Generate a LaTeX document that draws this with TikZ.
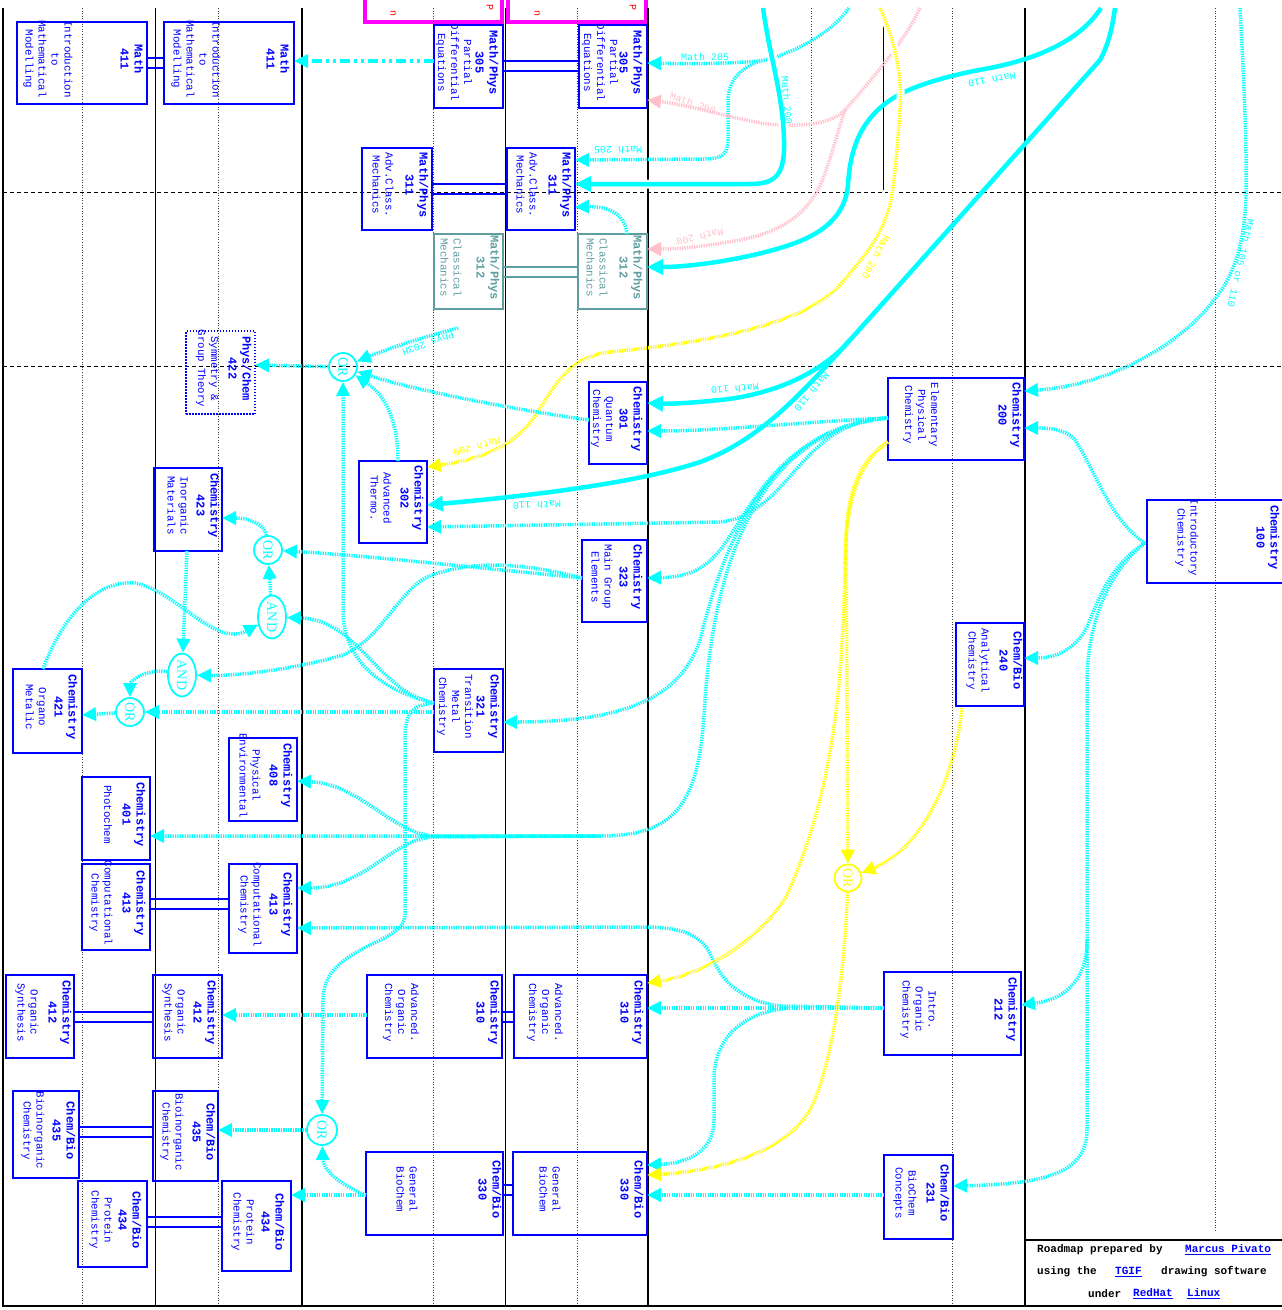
\documentclass[tikz,border=0pt]{standalone}
\usepackage{fontspec}
\usetikzlibrary{arrows.meta,calc,shapes.geometric}
\newfontfamily\monof{Liberation Mono}
\newfontfamily\orfont{Liberation Serif}
\definecolor{bblue}{RGB}{0,0,255}
\definecolor{ccyan}{RGB}{0,255,255}
\definecolor{cyel}{RGB}{255,255,0}
\definecolor{cpink}{RGB}{255,192,203}
\definecolor{cteal}{RGB}{95,158,160}
\definecolor{cmag}{RGB}{255,0,255}
\newcommand\hfont{\monof\bfseries\fontsize{12}{14}\selectfont}
\newcommand\dfont{\monof\fontsize{10.8}{13}\selectfont}
\newcommand\lfont{\monof\fontsize{10}{11}\selectfont}
\newcommand\ffont{\monof\bfseries\fontsize{11}{12}\selectfont}
\newcommand\course[9]{%
  \node[cbox,cur,minimum width={(#4-#2)*1pt},minimum height={(#5-#3)*1pt}] (#1) at ({(#2+#4)/2},{(#3+#5)/2}) {};
  \node[hdr,curtext] (#1h) at (#6,{(#3+#5)/2-4}) {#8};
  \node[dsc,curtext] (#1d) at (#7,{(#3+#5)/2-4}) {#9};
}
\begin{document}
\begin{tikzpicture}[x=1pt,y=-1pt,
  cbox/.style={rectangle,line width=1.8pt,inner sep=0pt,outer sep=0pt},
  cur/.style={draw=bblue},
  curtext/.style={text=bblue},
  hdr/.style={rotate=-90,align=center,font=\hfont,inner sep=0pt},
  dsc/.style={rotate=-90,align=center,font=\dfont,inner sep=0pt},
  tipc/.style={-{Triangle[length=14pt,width=13pt]}},
  tipt/.style={-{Triangle[length=16pt,width=15pt]}},
  cdot/.style={draw=ccyan,line width=3.5pt,dash pattern=on 1.3pt off 1.1pt,tipc},
  ydot/.style={draw=cyel,line width=3.5pt,dash pattern=on 1.3pt off 1.1pt,tipc},
  pdot/.style={draw=cpink,line width=3.5pt,dash pattern=on 1.3pt off 1.1pt,tipc},
  cthk/.style={draw=ccyan,line width=4.5pt,tipt},
  cdd/.style={draw=ccyan,line width=4pt,dash pattern=on 10pt off 4pt on 3pt off 4pt on 3pt off 4pt,tipc},
  dbl/.style={draw=bblue,line width=1.5pt},
  gate/.style={draw=ccyan,line width=1.8pt,circle,inner sep=0pt,minimum size=28pt,text=ccyan,font=\orfont\fontsize{14}{14}\selectfont},
  andg/.style={draw=ccyan,line width=1.8pt,ellipse,inner sep=0pt,minimum width=28pt,minimum height=41pt,text=ccyan,font=\orfont\fontsize{14}{14}\selectfont},
  lab/.style={font=\lfont,inner sep=0pt},
  vsolid/.style={draw=black,line width=1pt},
  vdot/.style={draw=black!75,line width=0.8pt,dash pattern=on 1pt off 1.6pt},
  hdash/.style={draw=black,line width=0.9pt,dash pattern=on 4pt off 3pt},
  foot/.style={font=\ffont,inner sep=0pt,anchor=west},
  link/.style={text=bblue},
  gap/.style={preaction={draw=white,line width=8pt,solid,-}}]
\useasboundingbox (0,0) rectangle (1282,1310);

% ---------- magenta cut-off boxes ----------
\draw[cmag,line width=3.5pt] (365,-10) -- (365,22) -- (502,22) -- (502,-10);
\draw[cmag,line width=3.5pt] (508,-10) -- (508,22) -- (646,22) -- (646,-10);
\node[red,rotate=-90,font=\lfont,inner sep=0pt] (rn1) at (393,13) {n};
\node[red,rotate=-90,font=\lfont,inner sep=0pt] (rp1) at (490,7) {P};
\node[red,rotate=-90,font=\lfont,inner sep=0pt] (rn2) at (537,13) {n};
\node[red,rotate=-90,font=\lfont,inner sep=0pt] (rp2) at (633,7) {P};

% ---------- grid ----------
\draw[vsolid,line width=2.5pt] (3,8) -- (3,1307);
\draw[vsolid] (155,8) -- (155,1307);
\draw[vsolid,line width=2pt] (302,8) -- (302,1307);
\draw[vsolid] (505,8) -- (505,1307);
\draw[vsolid,line width=2pt] (648,8) -- (648,1307);
\draw[vsolid,line width=2pt] (1025,8) -- (1025,1240);
\draw[vsolid] (883,8) -- (883,190);
\foreach \xx in {82,218,433,577,952} \draw[vdot] (\xx,8) -- (\xx,1305);
\draw[vdot] (811,8) -- (811,190);
\draw[vdot] (1215,8) -- (1215,1232);
\draw[hdash] (3,192) -- (1282,192);
\draw[hdash] (3,366) -- (1282,366);
\draw[vsolid,line width=2.5pt] (3,1306) -- (1025,1306);
\draw[vsolid,line width=2.5pt] (1025,1306) -- (1025,1240) -- (1290,1240);
\draw[vsolid,line width=2.5pt] (1025,1306) -- (1290,1306);

% ---------- courses ----------
\course{m411a}{17}{22}{147}{104}{132}{48}{Math\\411}{Introduction\\to\\Mathematical\\Modelling}
\course{m411b}{164}{22}{294}{104}{278}{196}{Math\\411}{Introduction\\to\\Mathematical\\Modelling}
\course{m305a}{434}{25}{503}{108}{487}{454}{Math/Phys\\305}{Partial\\Differential\\Equations}
\course{m305b}{579}{25}{647}{108}{631}{600}{Math/Phys\\305}{Partial\\Differential\\Equations}
\course{m311a}{362}{148}{432}{230}{417}{383}{Math/Phys\\311}{Adv.Class.\\Mechanics}
\course{m311b}{507}{148}{575}{230}{560}{527}{Math/Phys\\311}{Adv.Class.\\Mechanics}
\tikzset{cur/.style={draw=cteal},curtext/.style={text=cteal}}
\course{m312a}{434}{234}{503}{309}{488}{451}{Math/Phys\\312}{Classical\\Mechanics}
\course{m312b}{578}{234}{647}{309}{631}{597}{Math/Phys\\312}{Classical\\Mechanics}
\tikzset{cur/.style={draw=bblue,line width=1.5pt,dash pattern=on 1.5pt off 1.5pt},curtext/.style={text=bblue}}
\course{p422}{186}{331}{255}{414}{240}{207}{Phys/Chem\\422}{Symmetry \&\\Group Theory}
\tikzset{cur/.style={draw=bblue},curtext/.style={text=bblue}}
\course{c301}{589}{382}{647}{464}{631}{602}{Chemistry\\301}{Quantum\\Chemistry}
\course{c302}{359}{461}{427}{543}{412}{381}{Chemistry\\302}{Advanced\\Thermo.}
\course{c423}{154}{468}{222}{551}{208}{178}{Chemistry\\423}{Inorganic\\Materials}
\course{c323}{582}{540}{647}{622}{631}{602}{Chemistry\\323}{Main Group\\Elements}
\course{c200}{888}{378}{1024}{460}{1010}{921}{Chemistry\\200}{Elementary\\Physical\\Chemistry}
\course{c100}{1147}{500}{1300}{583}{1268}{1187}{Chemistry\\100}{Introductory\\Chemistry}
\course{cb240}{956}{623}{1024}{706}{1011}{978}{Chem/Bio\\240}{Analytical\\Chemistry}
\course{c421}{13}{669}{82}{753}{66}{36}{Chemistry\\421}{Organo\\Metalic}
\course{c321}{434}{669}{503}{752}{488}{455}{Chemistry\\321}{Transition\\Metal\\Chemistry}
\course{c408}{229}{738}{297}{821}{281}{250}{Chemistry\\408}{Physical\\Environmental}
\course{c401}{82}{777}{150}{860}{134}{108}{Chemistry\\401}{Photochem}
\course{c413a}{82}{864}{150}{950}{134}{101}{Chemistry\\413}{Computational\\Chemistry}
\course{c413b}{229}{864}{297}{953}{281}{250}{Chemistry\\413}{Computational\\Chemistry}
\course{c310a}{367}{975}{502}{1058}{488}{401}{Chemistry\\310}{Advanced.\\Organic\\Chemistry}
\course{c310b}{514}{975}{647}{1058}{632}{545}{Chemistry\\310}{Advanced.\\Organic\\Chemistry}
\course{c212}{884}{972}{1021}{1055}{1006}{918}{Chemistry\\212}{Intro.\\Organic\\Chemistry}
\course{c412a}{6}{975}{74}{1058}{60}{27}{Chemistry\\412}{Organic\\Synthesis}
\course{c412b}{153}{975}{222}{1058}{205}{174}{Chemistry\\412}{Organic\\Synthesis}
\course{cb435a}{13}{1091}{79}{1178}{64}{33}{Chem/Bio\\435}{Bioinorganic\\Chemistry}
\course{cb435b}{153}{1091}{218}{1181}{204}{172}{Chem/Bio\\435}{Bioinorganic\\Chemistry}
\course{cb434a}{78}{1181}{147}{1267}{130}{101}{Chem/Bio\\434}{Protein\\Chemistry}
\course{cb434b}{222}{1181}{291}{1271}{273}{243}{Chem/Bio\\434}{Protein\\Chemistry}
\course{cb330a}{366}{1152}{503}{1235}{490}{407}{Chem/Bio\\330}{General\\BioChem}
\course{cb330b}{513}{1152}{647}{1235}{632}{550}{Chem/Bio\\330}{General\\BioChem}
\course{cb231}{884}{1155}{953}{1239}{938}{905}{Chem/Bio\\231}{BioChem\\Concepts}

% ---------- same-course double links ----------
\foreach \a/\b/\o in {m411a/m411b/36,m305a/m305b/36,m311a/m311b/36,c310a/c310b/37,c412a/c412b/37,c413a/c413b/35,cb435a/cb435b/36,cb434a/cb434b/36,cb330a/cb330b/33}{
  \draw[dbl] ($(\a.north east)+(0,\o)$) -- ($(\b.north west)+(0,\o)$);
  \draw[dbl] ($(\a.north east)+(0,\o+10)$) -- ($(\b.north west)+(0,\o+10)$);
}
\draw[dbl,draw=cteal] ($(m312a.north east)+(0,33)$) -- ($(m312b.north west)+(0,33)$);
\draw[dbl,draw=cteal] ($(m312a.north east)+(0,43)$) -- ($(m312b.north west)+(0,43)$);

% ---------- gates ----------
\node[gate] (orA) at (343,367) {\rotatebox{-90}{OR}};
\node[gate] (orB) at (268,550) {\rotatebox{-90}{OR}};
\node[andg] (andA) at (272,617) {\rotatebox{-90}{AND}};
\node[andg] (andB) at (182,675) {\rotatebox{-90}{AND}};
\node[gate] (orC) at (130,712) {\rotatebox{-90}{OR}};
\node[gate,minimum size=30pt] (orD) at (322,1130) {\rotatebox{-90}{OR}};
\node[gate,draw=cyel,text=cyel,minimum size=27pt] (orY) at (848,878) {\rotatebox{-90}{OR}};

% ---------- free ends at the top ----------
\coordinate (t205) at (849,8);
\coordinate (t200) at (763,8);
\coordinate (tp200) at (920,8);
\coordinate (ty200) at (880,8);
\coordinate (t110a) at (1101,8);
\coordinate (t110b) at (1115,8);
\coordinate (t105) at (1240,8);
\coordinate (t203) at (458,328);
\coordinate (b205) at (760,61);
\coordinate (bp200) at (845,110);
\coordinate (b110) at (850,340);

% ---------- labels under lines ----------
\node[lab,text=ccyan,rotate=180] (l200h) at (682,184) {Math 200};

% ---------- top connectors ----------
\draw[cdd] ($(m305a.north west)+(0,36)$) -- ($(m411b.north east)+(0,39)$);
\draw[cdot] (t205) .. controls (830,35) and (790,55) .. (b205) .. controls (720,64) and (690,64) .. ($(m305b.north east)+(0,38)$);
\draw[cdot] (b205) .. controls (735,70) and (728,85) .. (728,102) -- (728,140) .. controls (728,155) and (720,159) .. (705,159) -- ($(m311b.north east)+(0,12)$);
\draw[pdot] (tp200) .. controls (905,40) and (880,70) .. (bp200) .. controls (830,125) and (800,127) .. (767,124) .. controls (730,118) and (690,105) .. ($(m305b.north east)+(0,75)$);
\draw[pdot] (bp200) .. controls (835,140) and (825,180) .. (816,193) .. controls (800,220) and (775,233) .. (740,240) .. controls (700,247) and (680,249) .. ($(m312b.north east)+(0,15)$);
\draw[cthk,preaction={draw=white,line width=9pt,-,shorten >=30pt}] (t200) .. controls (770,60) and (785,100) .. (784,150) .. controls (783,175) and (775,184) .. (750,184) -- ($(m311b.north east)+(0,36)$);
\draw[cthk] (t110a) .. controls (1080,40) and (1040,58) .. (990,68) .. controls (950,75) and (915,85) .. (895,97) .. controls (860,118) and (850,150) .. (848,185) .. controls (845,215) and (825,235) .. (780,248) .. controls (740,260) and (690,267) .. ($(m312b.north east)+(0,33)$);
\draw[ydot,-,gap] (ty200) .. controls (895,40) and (903,80) .. (900,110) .. controls (897,150) and (895,180) .. (890,205) .. controls (880,240) and (865,255) .. (840,285);
\draw[ydot] (840,285) .. controls (800,330) and (680,345) .. (610,352) .. controls (570,356) and (555,385) .. (537,413) .. controls (520,440) and (490,458) .. ($(c302.north east)+(0,6)$);
\draw[cthk,-] (t110b) .. controls (1112,30) and (1108,45) .. (1100,60) -- (b110);
\draw[cthk] (b110) .. controls (820,375) and (770,395) .. (720,400) .. controls (690,403) and (670,404) .. ($(c301.north east)+(0,21)$);
\draw[cthk] (b110) .. controls (800,395) and (760,440) .. (700,462) .. controls (640,482) and (540,495) .. ($(c302.north east)+(0,44)$);
\draw[cdot] (t105) .. controls (1244,80) and (1247,150) .. (1246,195) .. controls (1245,240) and (1235,275) .. (1214,300) .. controls (1180,345) and (1110,385) .. ($(c200.north east)+(0,13)$);
\draw[cdot] ($(m312b.north west)+(49,0)$) .. controls (625,215) and (610,206) .. ($(m311b.north east)+(0,59)$);

% ---------- labels ----------
\node[lab,text=ccyan] (l205a) at (705,57) {Math 205};
\node[lab,text=ccyan,rotate=180] (l205b) at (618,150) {Math 205};
\node[lab,text=ccyan,rotate=-85] (l200v) at (787,100) {Math 200};
\node[lab,text=cpink,rotate=-19] (lp200a) at (693,103) {Math 200};
\node[lab,text=cpink,rotate=193] (lp200b) at (700,237) {Math 200};
\node[lab,text=cyel,rotate=-118] (ly200a) at (876,257) {Math 200};
\node[lab,text=cyel,rotate=195] (ly200b) at (477,447) {Math 200};
\node[lab,text=ccyan,rotate=190] (l110a) at (992,80) {Math 110};
\node[lab,text=ccyan,rotate=184] (l110b) at (735,389) {Math 110};
\node[lab,text=ccyan,rotate=-130] (l110c) at (812,392) {Math 110};
\node[lab,text=ccyan,rotate=182] (l110d) at (537,505) {Math 110};
\node[lab,text=ccyan,rotate=-103] (l105) at (1241,263) {Math 105 or 110};
\node[lab,text=ccyan,rotate=199] (l203) at (428,343) {Phys 203H};

% ---------- middle connectors ----------
\draw[cdot] (t203) .. controls (420,338) and (390,348) .. (orA);
\draw[cdot] (orA) -- ($(p422.north east)+(0,34)$);
\draw[cdot] ($(c301.north west)+(0,38)$) .. controls (530,412) and (420,392) .. (orA);
\draw[cdot] ($(c302.north west)+(39,0)$) .. controls (398,420) and (385,395) .. (orA);
\draw[cdot] ($(c321.north west)+(0,34)$) .. controls (380,690) and (343,660) .. (343,610) -- (orA);
\draw[cdot] ($(c323.north west)+(0,38)$) .. controls (480,568) and (360,555) .. (orB);
\draw[cdot] (orB) .. controls (265,525) and (250,518) .. ($(c423.north east)+(0,50)$);
\draw[cdot] (andA) -- (orB);
\draw[cdot] ($(c321.north west)+(0,34)$) .. controls (375,690) and (360,620) .. (andA);
\draw[cdot] ($(c421.north west)+(30,0)$) .. controls (65,610) and (100,580) .. (135,583) .. controls (175,590) and (215,648) .. (andA);
\draw[cdot] ($(c423.south west)+(33,0)$) -- (andB);
\draw[cdot] ($(c323.north west)+(0,38)$) .. controls (520,562) and (470,560) .. (427,577) .. controls (400,590) and (380,640) .. (343,655) .. controls (300,668) and (240,676) .. (andB);
\draw[cdot] (andB) .. controls (150,668) and (130,680) .. (orC);
\draw[cdot] ($(c321.north west)+(0,43)$) -- (orC);
\draw[cdot] (orC) -- ($(c421.north east)+(0,46)$);
\draw[cdot] ($(c321.north west)+(0,34)$) .. controls (410,705) and (405,715) .. (405,740) -- (405,915) .. controls (405,945) and (323,945) .. (323,1000) -- (orD);
\draw[cdot] (orD) -- ($(cb435b.north east)+(0,39)$);
\draw[cdot] ($(cb330a.north west)+(0,43)$) .. controls (340,1185) and (323,1170) .. (orD);
\draw[cdot] ($(cb330a.north west)+(0,43)$) -- ($(cb434b.north east)+(0,14)$);
\draw[cdot] ($(c310a.north west)+(0,40)$) -- ($(c412b.north east)+(0,40)$);

% ---------- from Chemistry 200 ----------
\draw[cdot] ($(c200.north west)+(0,40)$) .. controls (800,422) and (720,431) .. ($(c301.north east)+(0,49)$);
\draw[cdot] ($(c200.north west)+(0,40)$) .. controls (800,420) and (790,515) .. (720,522) -- ($(c302.north east)+(0,66)$);
\draw[cdot] ($(c200.north west)+(0,40)$) .. controls (780,425) and (745,520) .. (720,550) .. controls (705,568) and (690,577) .. ($(c323.north east)+(0,38)$);
\draw[cdot] ($(c200.north west)+(0,40)$) .. controls (760,430) and (720,560) .. (700,640) .. controls (680,700) and (620,722) .. ($(c321.north east)+(0,53)$);
\draw[cdot] ($(c200.north west)+(0,40)$) .. controls (760,430) and (715,560) .. (705,700) .. controls (700,800) and (680,836) .. (600,836) -- ($(c401.north east)+(0,59)$);
\draw[cdot] (600,836) -- (433,836) .. controls (390,832) and (360,784) .. ($(c408.north east)+(0,43)$);
\draw[cdot] (600,836) -- (433,837) .. controls (390,840) and (365,888) .. ($(c413b.north east)+(0,24)$);

% ---------- right side ----------
\draw[cdot] ($(c100.north west)+(-2,43)$) .. controls (1110,520) and (1095,470) .. (1075,440) .. controls (1065,428) and (1045,428) .. ($(c200.north east)+(0,50)$);
\draw[cdot] ($(c100.north west)+(-2,43)$) .. controls (1110,565) and (1098,600) .. (1087,627) .. controls (1075,650) and (1055,658) .. ($(cb240.north east)+(0,35)$);
\draw[cdot] ($(c100.north west)+(-2,43)$) .. controls (1110,570) and (1088,620) .. (1087,680) -- (1087,940) .. controls (1087,985) and (1060,1000) .. ($(c212.north east)+(0,33)$);
\draw[cdot] (1087,940) -- (1087,1130) .. controls (1087,1175) and (1040,1184) .. ($(cb231.north east)+(0,31)$);
\draw[cdot] ($(c212.north west)+(0,36)$) -- ($(c310b.north east)+(0,33)$);
\draw[cdot] ($(c212.north west)+(0,36)$) -- (780,1006) .. controls (735,1000) and (720,975) .. (712,958) .. controls (705,940) and (690,928) .. (650,927) -- ($(c413b.north east)+(0,64)$);
\draw[cdot] (790,1008) .. controls (740,1012) and (714,1040) .. (714,1080) -- (714,1120) .. controls (714,1150) and (690,1163) .. ($(cb330b.north east)+(0,13)$);
\draw[cdot] ($(cb231.north west)+(0,40)$) -- ($(cb330b.north east)+(0,43)$);
\draw[ydot] ($(cb240.south west)+(6,2)$) .. controls (955,780) and (920,850) .. (orY);
\draw[ydot] ($(c200.north west)+(0,64)$) .. controls (860,460) and (847,490) .. (846,540) -- (orY);
\draw[ydot] (orY) .. controls (845,960) and (835,1060) .. (810,1110) .. controls (780,1160) and (700,1172) .. ($(cb330b.north east)+(0,23)$);
\draw[ydot] ($(c200.north west)+(0,64)$) .. controls (860,460) and (846,500) .. (845,560) .. controls (843,700) and (830,800) .. (786,897) .. controls (755,945) and (700,975) .. ($(c310b.north east)+(0,8)$);

% ---------- footer ----------
\node[foot] (f1) at (1037,1250) {Roadmap prepared by};
\node[foot,link] (f2) at (1185,1250) {\underline{Marcus Pivato}};
\node[foot] (f3) at (1037,1272) {using the};
\node[foot,link] (f4) at (1115,1272) {\underline{TGIF}};
\node[foot] (f5) at (1161,1272) {drawing software};
\node[foot] (f6) at (1088,1294) {under};
\node[foot,link] (f7) at (1133,1294) {\underline{RedHat}};
\node[foot,link] (f8) at (1187,1294) {\underline{Linux}};
\end{tikzpicture}
\end{document}
